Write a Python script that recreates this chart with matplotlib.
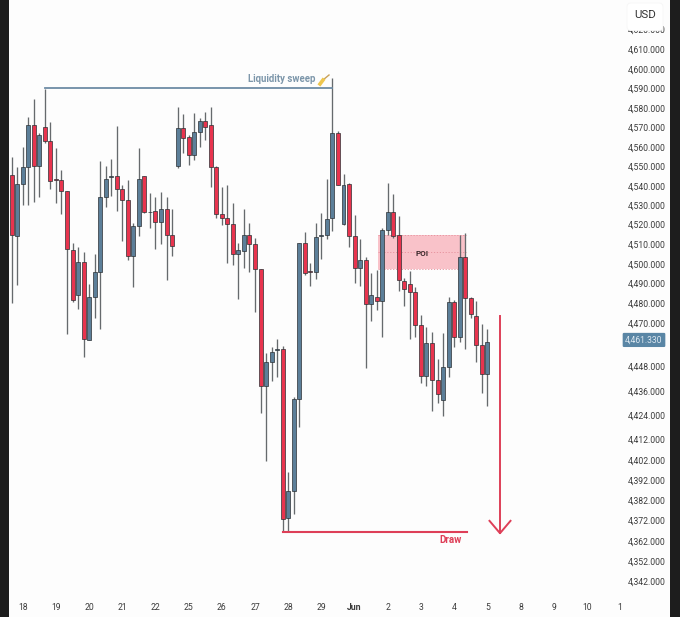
import numpy as np
import matplotlib
matplotlib.use("Agg")
import matplotlib.pyplot as plt
from matplotlib.lines import Line2D
from matplotlib.patches import FancyBboxPatch, Rectangle
from matplotlib.transforms import IdentityTransform

W, H = 680, 617
plt.rcParams['font.family'] = ['Roboto', 'DejaVu Sans']

# 4h candles, prices given above 4000
base = 4000
opens = [545.5,514.1,540.9,549.6,571.1,550.0,570.2,563.1,543.5,543.0,537.2,507.0,484.1,500.9,461.3,483.1,495.9,534.4,544.6,545.0,538.6,532.5,504.0,519.0,545.0,526.5,526.7,521.2,527.7,514.5,550.2,569.4,564.9,555.9,567.6,573.3,571.1,549.6,525.1,523.3,520.0,504.9,506.4,514.5,509.9,497.4,438.4,450.0,456.2,456.7,373.0,386.5,432.0,510.5,496.3,495.8,514.0,514.5,523.2,567.0,520.0,541.0,514.0,497.9,502.0,479.5,483.0,481.0,517.0,526.3,514.5,491.1,489.5,485.5,469.0,443.2,459.8,441.3,431.5,447.5,480.5,462.8,503.5,482.5,473.5,458.7,444.2]
highs = [554.9,549.6,560.1,575.1,584.4,566.9,589.4,572.5,559.6,548.0,537.4,510.6,508.4,505.9,489.5,505.0,552.8,550.2,553.5,570.7,540.5,543.0,520.4,559.3,545.0,536.2,534.4,536.7,534.4,527.7,580.4,576.7,566.0,577.2,574.9,578.1,580.4,550.0,539.3,540.5,530.9,510.6,527.7,520.4,513.1,497.4,454.7,457.7,461.8,458.2,396.0,433.0,510.5,516.0,500.5,520.5,525.8,543.5,595.3,568.0,546.0,541.5,524.7,512.5,503.5,495.3,496.8,518.0,541.5,535.8,524.2,492.6,496.3,488.0,474.0,468.0,465.4,451.6,464.9,483.0,481.5,514.5,515.5,483.0,481.0,469.5,466.9]
lows = [479.9,489.0,530.0,530.0,531.7,534.4,561.9,538.3,530.9,525.3,464.4,480.6,477.0,452.8,461.3,472.4,466.8,529.1,534.7,527.0,511.6,502.0,488.1,514.0,525.6,518.1,507.4,509.9,491.4,504.0,548.9,556.7,550.5,553.2,560.1,563.5,539.6,523.0,519.5,500.6,499.5,482.0,497.7,495.6,475.6,425.0,401.5,440.8,442.7,366.3,366.8,375.0,418.0,494.2,488.5,492.1,502.5,512.5,516.5,540.5,519.5,508.5,490.0,488.5,447.0,471.0,476.5,462.8,514.5,513.0,486.0,478.5,461.8,462.8,439.8,438.4,426.0,430.0,423.5,442.7,457.7,460.3,456.7,472.5,450.0,435.0,428.5]
closes = [514.5,540.9,549.6,571.1,550.0,566.0,563.1,542.6,543.1,537.5,507.5,481.5,500.9,461.7,483.1,495.6,534.4,543.6,545.0,538.6,532.5,504.0,519.0,543.5,526.2,526.2,521.2,527.7,514.6,509.1,569.4,564.6,555.9,567.6,573.3,570.2,549.6,525.3,523.3,520.0,504.9,507.0,514.5,509.9,497.4,438.4,450.0,455.2,456.7,372.5,386.5,432.0,510.5,495.3,495.8,513.5,514.5,522.6,567.0,540.5,540.5,514.0,497.9,502.0,479.5,484.0,481.0,517.0,526.3,514.0,491.6,487.0,485.5,469.0,443.2,459.8,441.3,434.5,447.5,480.5,462.8,503.5,482.5,474.5,458.7,444.2,460.3]

date_labels = ["18","19","20","21","22","25","26","27","28","29","Jun","2","3","4","5","8","9","10","1"]
date_ticks = list(range(2, 111, 6))
price_ticks = [4342,4352,4362,4372,4382,4392,4402,4412,4424,4436,4448,4470,4480,4490,4500,4510,4520,4530,4540,4550,4560,4570,4580,4590,4600,4610,4620]
# screen rows of those ticks, the price axis of the screenshot is not quite even
tick_rows = [581,561,541,520,500,480,460,439,415,391,366,323,303,283,264,244,224,205,186,166,147,127,108,88,69,49,29.5]
last_price = 4461.33

RED = "#e8344e"
BLUE = "#5c7f99"
EDGE = "#2b3034"
WICK = "#666a6d"
LINE_RED = "#de3f58"

scale_p = np.array([4300] + price_ticks + [4640])
scale_r = -np.array([666] + tick_rows + [-10], dtype=float)

def forward(v):
    return np.interp(v, scale_p, scale_r)

def inverse(v):
    return np.interp(v, scale_r, scale_p)

o = np.array(opens) + base
h = np.array(highs) + base
l = np.array(lows) + base
c = np.array(closes) + base
x = np.arange(len(o))

fig = plt.figure(figsize=(W / 100, H / 100), dpi=100, facecolor="#1d1d1d")
fig.add_artist(Rectangle((9, 0), 661, H, transform=IdentityTransform(), fc="#fdfdfd", ec="none", zorder=-5))

ax = fig.add_axes([9 / W, (H - 595) / H, 616 / W, 595 / H])
ax.patch.set_visible(False)
ax.set_yscale("function", functions=(forward, inverse))
ax.set_ylim(inverse(-595.0), inverse(0.0))
ax.set_xlim((9 - 11.7) / 5.53, (625 - 11.7) / 5.53)
for s in ax.spines.values():
    s.set_visible(False)

# POI zone
poi_low, poi_high = 4497.4, 4514.5
ax.add_patch(Rectangle((66.2, poi_low), 15.95, poi_high - poi_low, fc="#f9c2c9", ec="none", zorder=1))
for p in [poi_low, (poi_low + poi_high) / 2, poi_high]:
    ax.plot([66.2, 82.15], [p, p], color="#e58f9b", lw=0.6, ls=(0, (1.5, 2)), zorder=1.2)

ax.vlines(x, l, h, color=WICK, lw=0.95, zorder=2)
colors = [BLUE if cc >= oo else RED for oo, cc in zip(o, c)]
ax.bar(x, np.abs(c - o), bottom=np.minimum(o, c), width=0.72, color=colors, edgecolor=EDGE, lw=0.5, zorder=3)

# annotations
ax.plot([6, 58], [4590, 4590], color="#6d8ca5", lw=1.3, zorder=2.5)
ax.text(55, 4594.6, "Liquidity sweep", ha="right", va="center", color="#7c96aa", fontsize=6.9, fontweight="bold")
ax.plot([49, 82.4], [4366.3, 4366.3], color=LINE_RED, lw=1.5, zorder=2.5)
ax.text(79.3, 4362.4, "Draw", ha="center", va="center", color=LINE_RED, fontsize=7, fontweight="bold")
ax.text(74.2, 4505.5, "POI", ha="center", va="center", color="#3a2a2c", fontsize=5.8, fontweight="bold", zorder=4)
ax.plot([88.3, 88.3], [4473.5, 4366], color=LINE_RED, lw=1.4)
ax.plot([86.4, 88.3, 90.2], [4371.6, 4365.7, 4371.6], color=LINE_RED, lw=1.4)

# small broom next to the sweep label
broom = [((329, 75), (323, 80), "#c9a25a", 1.0), ((323, 80), (320, 84), "#eec64f", 2.6)]
for (x0, y0), (x1, y1), col, lw in broom:
    fig.add_artist(Line2D([x0, x1], [H - y0, H - y1], transform=IdentityTransform(), color=col, lw=lw, zorder=6))

ax.yaxis.tick_right()
ax.set_yticks(price_ticks, [f"{v:,.3f}" for v in price_ticks])
ax.minorticks_off()
ax.tick_params(axis="y", length=0, pad=2.2, labelsize=6.2, labelcolor="#3b3b3b")
ax.set_xticks(date_ticks, date_labels)
ax.tick_params(axis="x", length=0, pad=5.5, labelsize=6.2, labelcolor="#3b3b3b")
ax.get_xticklabels()[date_labels.index("Jun")].set_fontweight("bold")

ax.text(1 + 19 / 616, last_price, f"{last_price:,.3f}", transform=ax.get_yaxis_transform(), ha="center", va="center",
        color="#dbe7f0", fontsize=6.2, clip_on=False, zorder=7,
        bbox=dict(boxstyle="round,pad=0.3,rounding_size=0.15", fc="#5a86a5", ec="none"))

# USD box sits over the 4,620 label, only its lower edge shows
fig.add_artist(FancyBboxPatch((627, H - 30.5), 36, 27.5, boxstyle="round,pad=0,rounding_size=4", transform=IdentityTransform(), fc="#ffffff", ec="#f6f6f6", lw=0.6, zorder=6))
fig.text(645 / W, 1 - 15.5 / H, "USD", ha="center", va="center", fontsize=8.2, color="#333333", zorder=7)

fig.savefig("out.png", dpi=100, facecolor=fig.get_facecolor())
